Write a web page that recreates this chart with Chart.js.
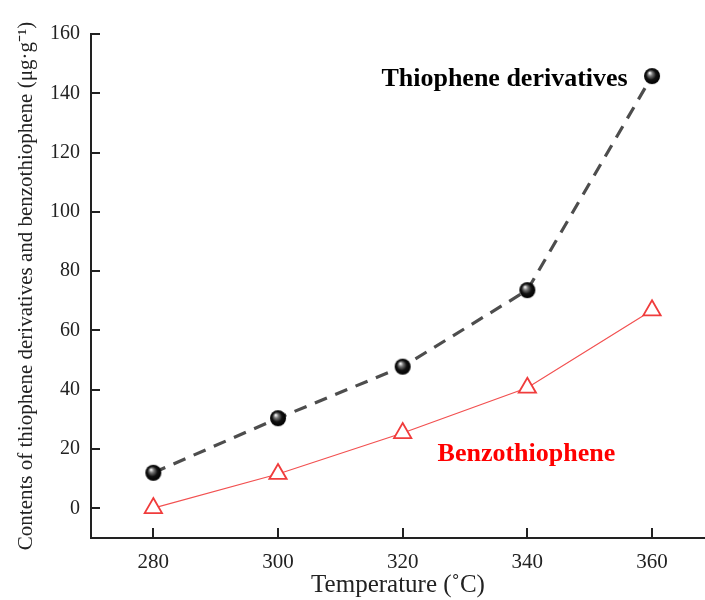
<!DOCTYPE html>
<html>
<head>
<meta charset="utf-8">
<script src="https://cdn.jsdelivr.net/npm/chart.js@4.4.0/dist/chart.umd.min.js"></script>
<style>
  html, body { margin: 0; padding: 0; background: #fff; overflow: hidden; }
  #wrap { width: 705px; height: 600px; position: relative; }
  canvas { display: block; }
</style>
</head>
<body>
<div id="wrap"><canvas id="chart"></canvas></div>
<script>
// data
const temperatures = [280, 300, 320, 340, 360];
const thiopheneDerivatives = [12.0, 30.4, 47.8, 73.6, 145.8];
const benzothiophene = [0.1, 11.6, 25.4, 40.7, 66.8];
const xTicks = [280, 300, 320, 340, 360];
const yTicks = [0, 20, 40, 60, 80, 100, 120, 140, 160];

const SERIF = "'Liberation Serif', 'Times New Roman', serif";
const AXIS = '#222';

// shaded black ball marker
function makeBall(r) {
    const c = document.createElement('canvas');
    c.width = c.height = r * 2 + 2;
    const g = c.getContext('2d');
    const cx = r + 1, cy = r + 1;
    const grad = g.createRadialGradient(cx - r * 0.3, cy - r * 0.4, 0.5, cx, cy, r);
    grad.addColorStop(0, '#f4f4f4');
    grad.addColorStop(0.25, '#777');
    grad.addColorStop(0.6, '#111');
    grad.addColorStop(1, '#000');
    g.fillStyle = grad;
    g.beginPath();
    g.arc(cx, cy, r, 0, Math.PI * 2);
    g.fill();
    return c;
}
const ball = makeBall(8);

// inward tick marks + series labels
const decorations = {
    id: 'decorations',
    afterDraw(chart) {
        const ctx = chart.ctx;
        const xs = chart.scales.x, ys = chart.scales.y;
        const area = chart.chartArea;
        ctx.save();
        ctx.strokeStyle = AXIS;
        ctx.lineWidth = 2;
        xTicks.forEach(v => {
            const px = Math.round(xs.getPixelForValue(v));
            ctx.beginPath();
            ctx.moveTo(px, area.bottom);
            ctx.lineTo(px, area.bottom - 10);
            ctx.stroke();
        });
        yTicks.forEach(v => {
            const py = Math.round(ys.getPixelForValue(v));
            ctx.beginPath();
            ctx.moveTo(area.left, py);
            ctx.lineTo(area.left + 9, py);
            ctx.stroke();
        });

        ctx.font = 'bold 26px ' + SERIF;
        ctx.textBaseline = 'alphabetic';
        ctx.fillStyle = '#000';
        ctx.textAlign = 'right';
        ctx.fillText('Thiophene derivatives', xs.getPixelForValue(356.1), ys.getPixelForValue(142.3));
        ctx.fillStyle = '#ff0000';
        ctx.textAlign = 'left';
        ctx.fillText('Benzothiophene', xs.getPixelForValue(325.6), ys.getPixelForValue(16.1));
        ctx.restore();
    }
};

new Chart(document.getElementById('chart'), {
    type: 'line',
    data: {
        datasets: [
            {
                label: 'Benzothiophene',
                data: temperatures.map((t, i) => ({ x: t, y: benzothiophene[i] })),
                borderColor: '#f25050',
                borderWidth: 1.2,
                tension: 0,
                pointStyle: 'triangle',
                pointRadius: 10,
                pointBorderWidth: 1.8,
                pointBorderColor: '#f03c3c',
                pointBackgroundColor: '#fff',
                order: 2
            },
            {
                label: 'Thiophene derivatives',
                data: temperatures.map((t, i) => ({ x: t, y: thiopheneDerivatives[i] })),
                borderColor: '#4d4d4d',
                borderWidth: 3.2,
                borderDash: [13, 9],
                tension: 0,
                pointStyle: ball,
                pointRadius: 8,
                order: 1
            }
        ]
    },
    options: {
        responsive: true, maintainAspectRatio: false,
        animation: false,
        layout: { autoPadding: false, padding: { top: 34, right: 0, left: 0, bottom: 0 } },
        plugins: { legend: { display: false }, tooltip: { enabled: false } },
        scales: {
            x: {
                type: 'linear', min: 270, max: 368.5,
                afterBuildTicks: s => { s.ticks = xTicks.map(v => ({ value: v })); },
                afterFit: s => { s.height = 62; },
                grid: { display: false, drawTicks: false },
                border: { display: true, color: AXIS, width: 2 },
                ticks: { color: AXIS, padding: 12, font: { family: SERIF, size: 21 } },
                title: {
                    display: true, text: 'Temperature (\u02daC)', color: AXIS,
                    font: { family: SERIF, size: 25 }, padding: { top: 0, bottom: 0 }
                }
            },
            y: {
                type: 'linear', min: -10, max: 160,
                afterBuildTicks: s => { s.ticks = yTicks.map(v => ({ value: v })); },
                afterFit: s => { s.width = 91; },
                grid: { display: false, drawTicks: false },
                border: { display: true, color: AXIS, width: 2 },
                ticks: { color: AXIS, padding: 11, font: { family: SERIF, size: 20 } },
                title: {
                    display: true, text: 'Contents of thiophene derivatives and benzothiophene (\u03bcg\u00b7g\u207b\u00b9)', color: AXIS,
                    font: { family: SERIF, size: 21 }, padding: { top: 14, bottom: 0 }
                }
            }
        }
    },
    plugins: [decorations]
});
</script>
</body>
</html>
